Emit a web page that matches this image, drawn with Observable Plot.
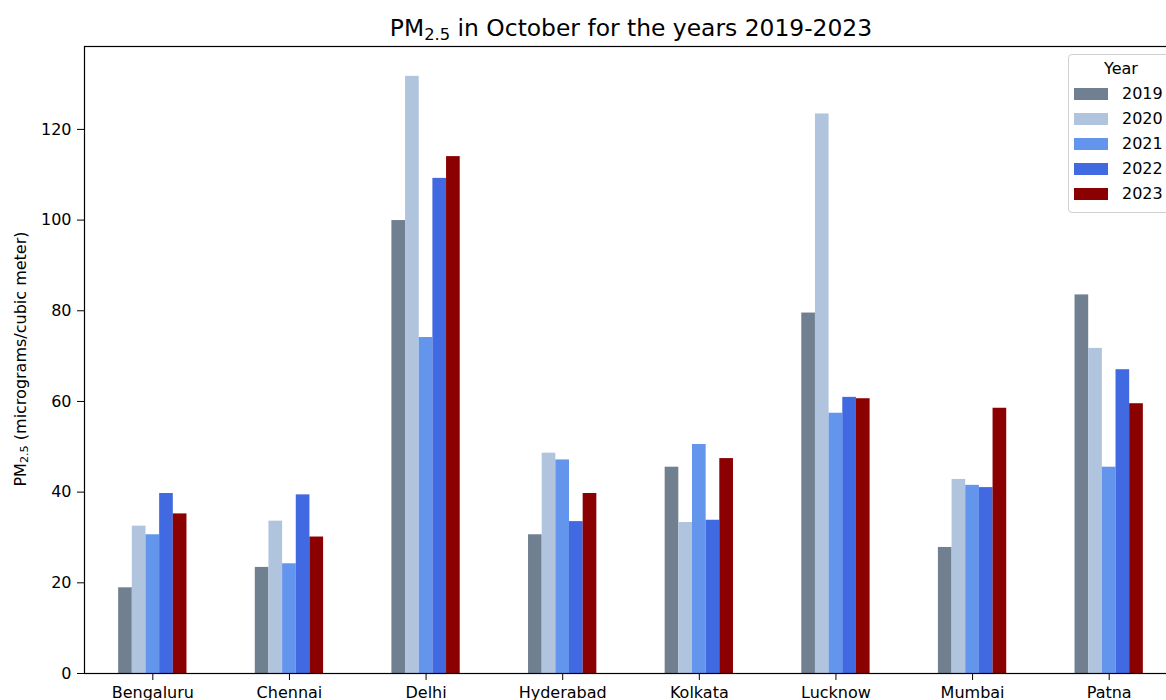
<!DOCTYPE html>
<html>
<head>
<meta charset="utf-8">
<script src="https://cdn.jsdelivr.net/npm/d3@7"></script>
<script src="https://cdn.jsdelivr.net/npm/@observablehq/plot@0.6"></script>
<style>
  html, body { margin: 0; padding: 0; background: #fff; overflow: hidden; }
  #wrap { position: relative; width: 1166px; height: 700px; overflow: hidden; font-family: "DejaVu Sans", sans-serif; color: #000; }
  #chart { position: absolute; left: 0; top: 0; width: 1178px; height: 700px; }
  #chart svg { max-width: none !important; width: 1178px; height: 700px; }
  #title { position: absolute; left: 84px; width: 1094px; top: 14px; text-align: center; font-size: 23.4px; line-height: 28px; white-space: nowrap; }
  #ylabel { position: absolute; left: 20px; top: 359px; transform: translate(-50%, -50%) rotate(-90deg); font-size: 16px; white-space: nowrap; }
  sub { font-size: 70%; vertical-align: -0.25em; line-height: 0; }
  #legend { position: absolute; left: 1068px; top: 54px; width: 130px; height: 157px; border: 1px solid #d0d0d0; border-radius: 4px; background: rgba(255,255,255,0.8); font-size: 16px; }
  #legend .lt { position: absolute; left: 0; width: 104px; top: 4px; text-align: center; }
  #legend .row { position: absolute; left: 5px; height: 20px; }
  #legend .sw { position: absolute; left: 0; top: 4px; width: 34px; height: 12px; }
  #legend .lab { position: absolute; left: 48px; top: 0; line-height: 20px; }
</style>
</head>
<body>
<div id="wrap">
  <div id="chart"></div>
  <div id="title">PM<sub>2.5</sub> in October for the years 2019-2023</div>
  <div id="ylabel">PM<sub>2.5</sub> (micrograms/cubic meter)</div>
  <div id="legend"></div>
</div>
<script>
const cities = ["Bengaluru", "Chennai", "Delhi", "Hyderabad", "Kolkata", "Lucknow", "Mumbai", "Patna"];
const years = ["2019", "2020", "2021", "2022", "2023"];
const pm2019 = [18.9, 23.4, 99.9, 30.6, 45.5, 79.5, 27.8, 83.5];
const pm2020 = [32.5, 33.6, 131.7, 48.6, 33.3, 123.4, 42.8, 71.7];
const pm2021 = [30.6, 24.2, 74.1, 47.1, 50.5, 57.4, 41.5, 45.5];
const pm2022 = [39.7, 39.4, 109.2, 33.5, 33.8, 60.9, 41.0, 67.0];
const pm2023 = [35.2, 30.1, 114.0, 39.7, 47.4, 60.6, 58.5, 59.5];
const yearColors = ["#708090", "#b0c4de", "#6495ed", "#4169e1", "#8b0000"];
const yTicks = [0, 20, 40, 60, 80, 100, 120];

const series = [pm2019, pm2020, pm2021, pm2022, pm2023];
const groupWidth = 0.5;
const barW = groupWidth / years.length;
const rows = [];
years.forEach((yr, yi) => {
  cities.forEach((c, ci) => {
    rows.push({city: c, ci, year: yr, yi, value: series[yi][ci]});
  });
});

const plot = Plot.plot({
  width: 1178,
  height: 700,
  marginLeft: 84,
  marginRight: 1,
  marginTop: 46,
  marginBottom: 27,
  style: {fontFamily: "DejaVu Sans, sans-serif", fontSize: "16px", color: "#000", background: "#fff", overflow: "visible", maxWidth: "none"},
  x: {domain: [-0.5, cities.length - 0.5], axis: null},
  y: {domain: [0, 131.7 * 1.05], axis: null},
  color: {domain: years, range: yearColors},
  marks: [
    Plot.rectY(rows, {
      x1: d => d.ci - groupWidth / 2 + d.yi * barW,
      x2: d => d.ci - groupWidth / 2 + (d.yi + 1) * barW,
      y: "value",
      fill: "year",
      inset: 0
    }),
    Plot.axisY({ticks: yTicks, tickSize: 7, tickPadding: 6, label: null, fontSize: 16, stroke: "#000"}),
    Plot.axisX({ticks: cities.map((c, i) => i), tickFormat: i => cities[i], tickSize: 7, tickPadding: 6, label: null, fontSize: 16, stroke: "#000"}),
    Plot.frame({stroke: "#000", strokeWidth: 1.2})
  ]
});
document.getElementById("chart").appendChild(plot);

const legend = document.getElementById("legend");
const lt = document.createElement("div");
lt.className = "lt";
lt.textContent = "Year";
legend.appendChild(lt);
years.forEach((yr, i) => {
  const row = document.createElement("div");
  row.className = "row";
  row.style.top = (29 + i * 25.1) + "px";
  const sw = document.createElement("div");
  sw.className = "sw";
  sw.style.background = yearColors[i];
  const lab = document.createElement("div");
  lab.className = "lab";
  lab.textContent = yr;
  row.appendChild(sw);
  row.appendChild(lab);
  legend.appendChild(row);
});
</script>
</body>
</html>
